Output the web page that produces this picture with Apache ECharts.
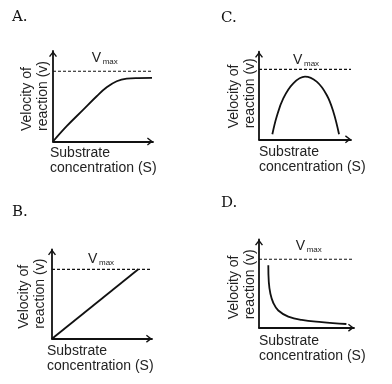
<!DOCTYPE html>
<html>
<head>
<meta charset="utf-8">
<script src="https://cdn.jsdelivr.net/npm/echarts@6/dist/echarts.min.js"></script>
<style>
html,body{margin:0;padding:0;background:#fff;}
#chart{width:392px;height:384px;}
</style>
</head>
<body>
<div id="chart"></div>
<script>
// ---- data (axis units 0..100 in every panel) ----
const panelLetters = ['A.', 'B.', 'C.', 'D.'];
const xAxisTitle = 'Substrate\nconcentration (S)';
const yAxisTitle = 'Velocity of\nreaction (v)';
const vmaxMain = 'V';
const vmaxSub = 'max';
const vmaxLevels = [77.6, 77.6, 79.9, 77.6];
const curveA = [[0,0],[13.7,16.9],[30.3,35.2],[43.7,50.0],[53.7,59.9],[63.7,66.6],[73.7,69.5],[85,70.1],[99,70.2]];
const curveB = [[0,0],[86.3,77.6]];
const curveC = [[14.5,5.7],[19.2,25.8],[26.4,46.8],[37.3,63.9],[50,71.5],[62.7,65.8],[73.6,50.6],[80.8,31.5],[87,5.7]];
const curveD = [[9.8,70.7],[10.3,52.0],[12.0,38.5],[15.1,28.0],[20.3,19.5],[30.8,12.6],[44.9,8.8],[66.0,6.4],[92,4.2]];
const curves = [curveA, curveB, curveC, curveD];

// ---- layout ----
const grids = [
  {left: 53, top: 51, width: 100, height: 90.5},
  {left: 52, top: 249.3, width: 100, height: 89.4},
  {left: 259, top: 51.7, width: 92, height: 87.6},
  {left: 259, top: 239.5, width: 95, height: 88.2}
];
const letterPos = [[12, 10], [12, 205], [221, 11], [221, 196]];
const xTitlePos = [[50, 146], [47, 344], [259, 145], [259, 334]];
const yTitlePos = [[19, 131], [16.5, 328.7], [226.5, 128.3], [226.5, 319.3]];
const vPos = [[91.7, 51], [88, 252], [293, 53], [295.7, 239]];

const INK = '#111';
const chevron = 'path://M0,5.2 L4,0 L8,5.2 L6.9,6 L4,2.3 L1.1,6 Z';

function axis(i) {
  return {
    type: 'value', gridIndex: i, min: 0, max: 100,
    axisLine: {show: true, onZero: false,
      lineStyle: {color: INK, width: 1.8},
      symbol: ['none', chevron], symbolSize: [8, 6], symbolOffset: [0, -3]},
    axisTick: {show: false}, axisLabel: {show: false}, splitLine: {show: false}
  };
}

const series = [];
curves.forEach((c, i) => {
  series.push({
    type: 'line', xAxisIndex: i, yAxisIndex: i, data: c,
    smooth: i === 1 ? false : 0.4,
    showSymbol: false, silent: true,
    lineStyle: {color: INK, width: 1.8}
  });
  series.push({
    type: 'line', xAxisIndex: i, yAxisIndex: i,
    data: [[0, vmaxLevels[i]], [100, vmaxLevels[i]]],
    showSymbol: false, silent: true,
    lineStyle: {color: INK, width: 1.2, type: [3, 2]}
  });
});

const graphic = [];
for (let i = 0; i < 4; i++) {
  graphic.push({type: 'text', x: letterPos[i][0], y: letterPos[i][1],
    style: {text: panelLetters[i], font: '15px "DejaVu Serif"', fill: INK, align: 'left', verticalAlign: 'top'}});
  graphic.push({type: 'text', x: xTitlePos[i][0], y: xTitlePos[i][1],
    style: {text: xAxisTitle, font: '14px "Liberation Sans"', fill: '#222', align: 'left', verticalAlign: 'top', lineHeight: 15}});
  graphic.push({type: 'text', x: yTitlePos[i][0], y: yTitlePos[i][1], rotation: Math.PI / 2,
    style: {text: yAxisTitle, font: '14px "Liberation Sans"', fill: '#222', align: 'left', verticalAlign: 'top', lineHeight: 16}});
  graphic.push({type: 'text', x: vPos[i][0], y: vPos[i][1],
    style: {text: vmaxMain, font: '14px "Liberation Sans"', fill: '#222', align: 'left', verticalAlign: 'top'}});
  graphic.push({type: 'text', x: vPos[i][0] + 11, y: vPos[i][1] + 7,
    style: {text: vmaxSub, font: '8px "Liberation Sans"', fill: '#222', align: 'left', verticalAlign: 'top'}});
}

const chart = echarts.init(document.getElementById('chart'), null, {renderer: 'canvas'});
chart.setOption({
  animation: false,
  backgroundColor: '#fff',
  grid: grids,
  xAxis: [0,1,2,3].map(axis),
  yAxis: [0,1,2,3].map(axis),
  series: series,
  graphic: graphic
});
</script>
</body>
</html>
